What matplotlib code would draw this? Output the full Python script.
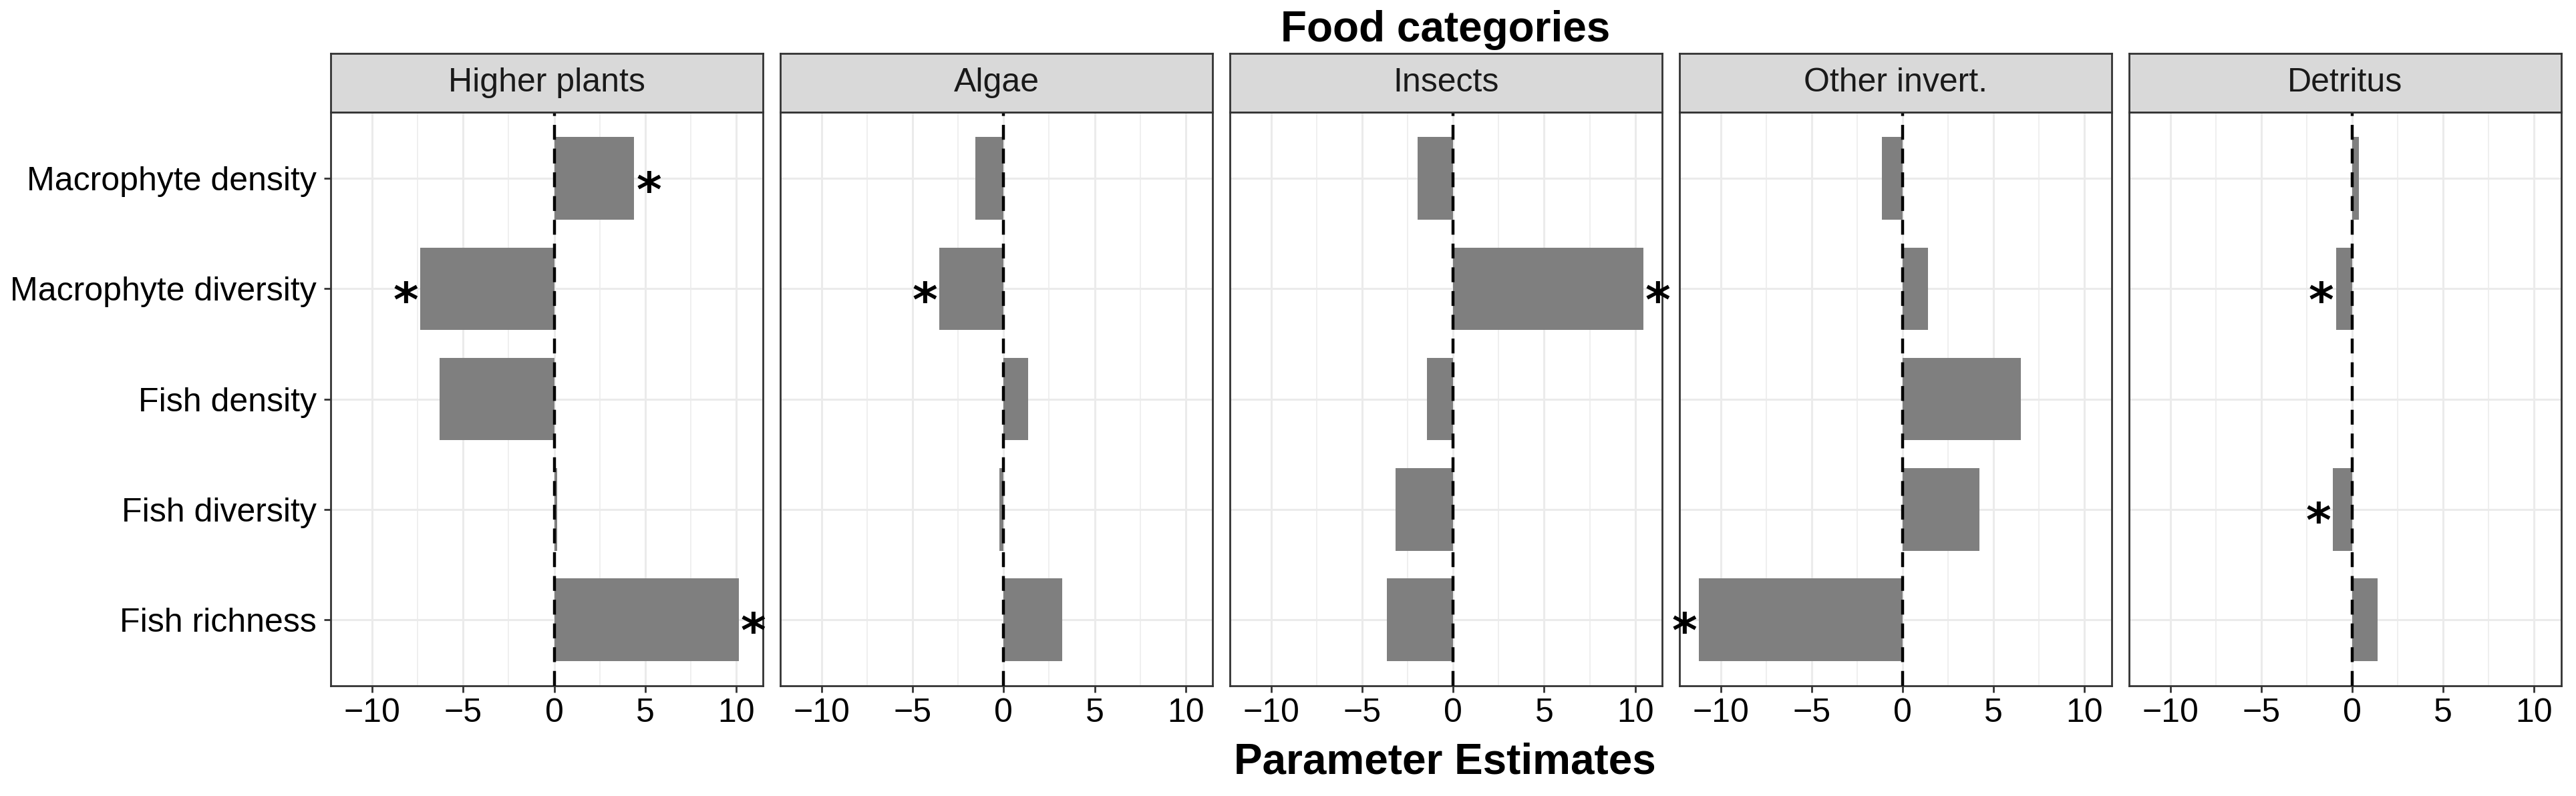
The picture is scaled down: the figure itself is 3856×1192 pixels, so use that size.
import matplotlib
matplotlib.use('Agg')
import matplotlib.pyplot as plt
import numpy as np

plt.rcParams['font.family'] = ['Liberation Sans', 'DejaVu Sans']

# 数据：各食物类别的参数估计值
predictors = ['Macrophyte density', 'Macrophyte diversity', 'Fish density', 'Fish diversity', 'Fish richness']
foods = ['Higher plants', 'Algae', 'Insects', 'Other invert.', 'Detritus']
higher_plants = [4.4, -7.35, -6.3, 0.15, 10.15]
algae = [-1.55, -3.55, 1.35, -0.22, 3.2]
insects = [-1.95, 10.45, -1.45, -3.15, -3.65]
other_invert = [-1.15, 1.4, 6.5, 4.2, -11.2]
detritus = [0.35, -0.9, 0.0, -1.05, 1.4]
# 显著性标记 (1 = *)
higher_plants_sig = [1, 1, 0, 0, 1]
algae_sig = [0, 1, 0, 0, 0]
insects_sig = [0, 1, 0, 0, 0]
other_invert_sig = [0, 0, 0, 0, 1]
detritus_sig = [0, 1, 0, 1, 0]
x_ticks = [-10, -5, 0, 5, 10]

values = [higher_plants, algae, insects, other_invert, detritus]
sigs = [higher_plants_sig, algae_sig, insects_sig, other_invert_sig, detritus_sig]

fig = plt.figure(figsize=(19.28, 5.96), dpi=200)
left0 = 0.1284
pw = 0.1678
gap = 0.0067
bottom = 0.1386
top = 0.8588
strip_h = 0.0738
y = np.arange(len(predictors))

for i in range(len(foods)):
    ax = fig.add_axes([left0 + i * (pw + gap), bottom, pw, top - bottom])
    ax.set_axisbelow(True)
    ax.barh(y, values[i], height=0.75, color='#7f7f7f', zorder=2)
    ax.axvline(0, color='black', lw=1.6, ls=(0, (5, 3)), zorder=3)
    ax.set_xlim(-12.28, 11.48)
    ax.set_ylim(4.6, -0.6)
    ax.set_xticks(x_ticks)
    ax.set_xticks([-7.5, -2.5, 2.5, 7.5], minor=True)
    ax.set_yticks(y)
    ax.grid(which='major', color='#ebebeb', lw=1.1)
    ax.grid(which='minor', axis='x', color='#ebebeb', lw=0.55)
    ax.tick_params(which='minor', length=0)
    ax.tick_params(which='major', length=3.6, width=1.0, color='#333333', labelsize=18, labelcolor='black', pad=3)
    if i == 0:
        ax.set_yticklabels(predictors)
        ax.tick_params(axis='y', pad=4)
    else:
        ax.tick_params(axis='y', left=False, labelleft=False)
    for sp in ax.spines.values():
        sp.set_color('#333333')
        sp.set_linewidth(1.0)
    # 显著性星号
    for j in range(len(predictors)):
        if sigs[i][j]:
            v = values[i][j]
            ax.annotate('*', xy=(v, j), xytext=(1 if v > 0 else -1, -8), textcoords='offset points',
                        ha='left' if v > 0 else 'right', va='center', fontsize=26, fontweight='bold',
                        family='DejaVu Sans', color='black', annotation_clip=False, zorder=4)
    # 分面标题条
    sax = fig.add_axes([left0 + i * (pw + gap), top, pw, strip_h])
    sax.set_facecolor('#d9d9d9')
    sax.set_xticks([])
    sax.set_yticks([])
    for sp in sax.spines.values():
        sp.set_color('#333333')
        sp.set_linewidth(1.0)
    sax.text(0.5, 0.5, foods[i], ha='center', va='center', fontsize=18, color='#1a1a1a', transform=sax.transAxes)

fig.text(0.561, 0.962, 'Food categories', ha='center', va='center', fontsize=23, fontweight='bold')
fig.text(0.561, 0.042, 'Parameter Estimates', ha='center', va='center', fontsize=23, fontweight='bold')

plt.savefig('out.png', dpi=200)
